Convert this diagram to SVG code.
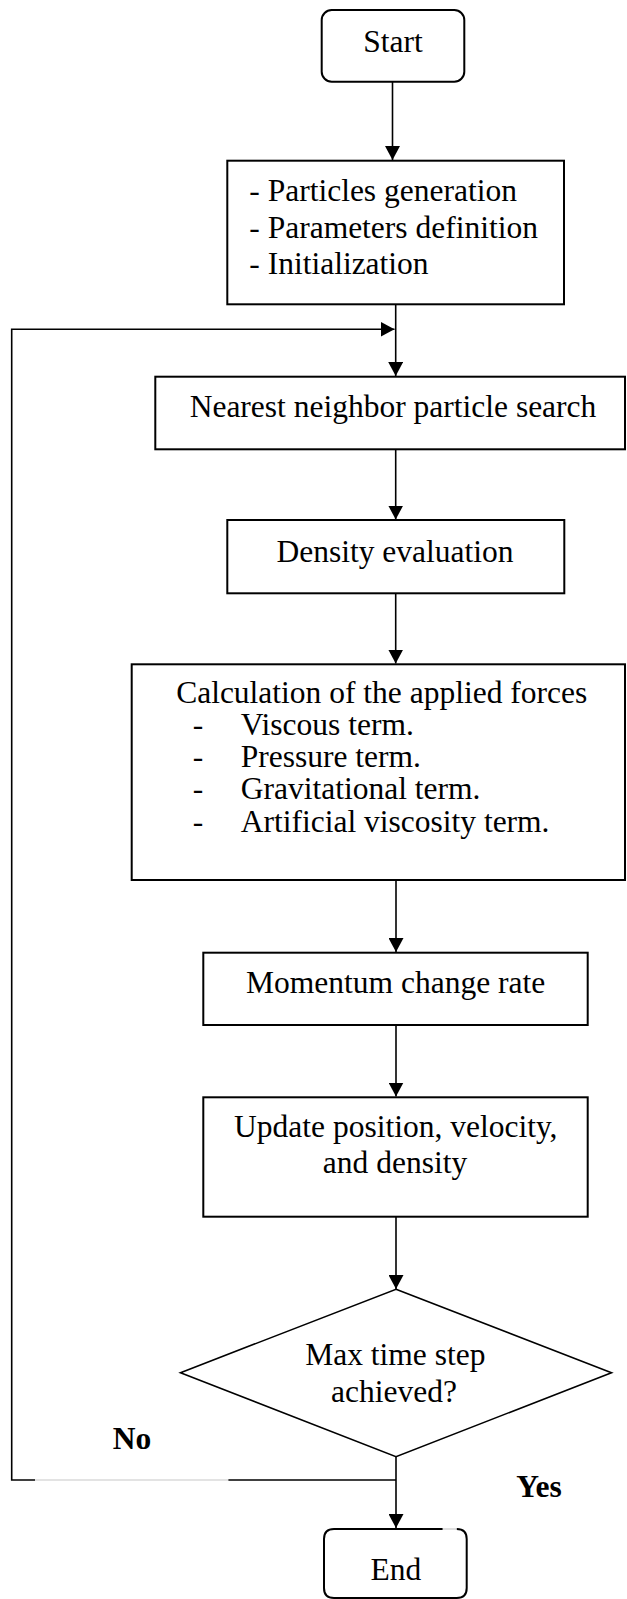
<svg xmlns="http://www.w3.org/2000/svg" width="627" height="1599" viewBox="0 0 627 1599">
<style>
.box{fill:#fff;stroke:#000;stroke-width:2}
.dia{fill:#fff;stroke:#000;stroke-width:1.6}
.t{font-family:"Liberation Serif","Times New Roman",serif;font-size:31.5px;fill:#000}
.c{text-anchor:middle}
.b{font-weight:bold}
.ln{fill:none;stroke:#000;stroke-width:1.6}
.gr{fill:none;stroke:#c8c8c8;stroke-width:1.2}
</style>
<defs>
<marker id="ah" markerWidth="14" markerHeight="15" refX="14" refY="7.5" orient="auto" markerUnits="userSpaceOnUse">
<path d="M0,0 L14,7.5 L0,15 z" fill="#000"/>
</marker>
</defs>
<rect width="627" height="1599" fill="#fff"/>
<g id="connectors">
<line class="ln" x1="392.5" y1="81.7" x2="392.5" y2="160" marker-end="url(#ah)"/>
<line class="ln" x1="395.7" y1="304.3" x2="395.7" y2="376" marker-end="url(#ah)"/>
<line class="ln" x1="395.7" y1="449.3" x2="395.7" y2="519.5" marker-end="url(#ah)"/>
<line class="ln" x1="395.7" y1="593.3" x2="395.7" y2="663.5" marker-end="url(#ah)"/>
<line class="ln" x1="396" y1="880.5" x2="396" y2="952" marker-end="url(#ah)"/>
<line class="ln" x1="396" y1="1025" x2="396" y2="1096.5" marker-end="url(#ah)"/>
<line class="ln" x1="396" y1="1216.7" x2="396" y2="1289" marker-end="url(#ah)"/>
<line class="ln" x1="396" y1="1456.7" x2="396" y2="1528" marker-end="url(#ah)"/>
<path class="ln" d="M396,1480 H228.3"/>
<path class="gr" d="M228.3,1480 H35"/>
<path class="ln" d="M35,1480 H11.7 V329.3 H394.5" marker-end="url(#ah)"/>
</g>
<g id="start">
<rect class="box" x="321.7" y="10" width="142.6" height="71.7" rx="10"/>
<text class="t c" x="393" y="52">Start</text>
</g>
<g id="init">
<rect class="box" x="227.3" y="160.7" width="336.7" height="143.6"/>
<text class="t" x="249.3" y="201">- Particles generation</text>
<text class="t" x="249.3" y="237.7">- Parameters definition</text>
<text class="t" x="249.3" y="274.3">- Initialization</text>
</g>
<g id="nearest">
<rect class="box" x="155.3" y="376.7" width="469.7" height="72.6"/>
<text class="t c" x="393" y="416.7">Nearest neighbor particle search</text>
</g>
<g id="density">
<rect class="box" x="227.3" y="520" width="337" height="73.3"/>
<text class="t c" x="395" y="561.7">Density evaluation</text>
</g>
<g id="forces">
<rect class="box" x="131.7" y="664.3" width="493.3" height="215.7"/>
<text class="t c" x="381.7" y="703.3">Calculation of the applied forces</text>
<text class="t" x="192.7" y="735">-</text>
<text class="t" x="240.7" y="735">Viscous term.</text>
<text class="t" x="192.7" y="767.3">-</text>
<text class="t" x="240.7" y="767.3">Pressure term.</text>
<text class="t" x="192.7" y="799.3">-</text>
<text class="t" x="240.7" y="799.3">Gravitational term.</text>
<text class="t" x="192.7" y="831.7">-</text>
<text class="t" x="240.7" y="831.7">Artificial viscosity term.</text>
</g>
<g id="momentum">
<rect class="box" x="203.3" y="952.7" width="384.4" height="72.3"/>
<text class="t c" x="395.7" y="993.3">Momentum change rate</text>
</g>
<g id="update">
<rect class="box" x="203.3" y="1097.3" width="384.4" height="119.4"/>
<text class="t c" x="395.8" y="1136.7">Update position, velocity,</text>
<text class="t c" x="395" y="1173.3">and density</text>
</g>
<g id="decision">
<polygon class="dia" points="396,1289.3 611.5,1372.7 396,1456.7 180.5,1372.7"/>
<text class="t c" x="395.3" y="1365">Max time step</text>
<text class="t c" x="394" y="1401.7">achieved?</text>
</g>
<g id="end">
<path class="box" d="M442.7,1529 H334 Q324,1529 324,1539 V1588 Q324,1598 334,1598 H456.7 Q466.7,1598 466.7,1588 V1539 Q466.7,1529 456.7,1529" fill="#fff"/>
<path class="gr" d="M442.7,1529 H456.7"/>
<text class="t c" x="395.8" y="1580">End</text>
</g>
<g id="labels">
<text class="t b" x="112.7" y="1449">No</text>
<text class="t b" x="516.3" y="1496.5">Yes</text>
</g>
</svg>
